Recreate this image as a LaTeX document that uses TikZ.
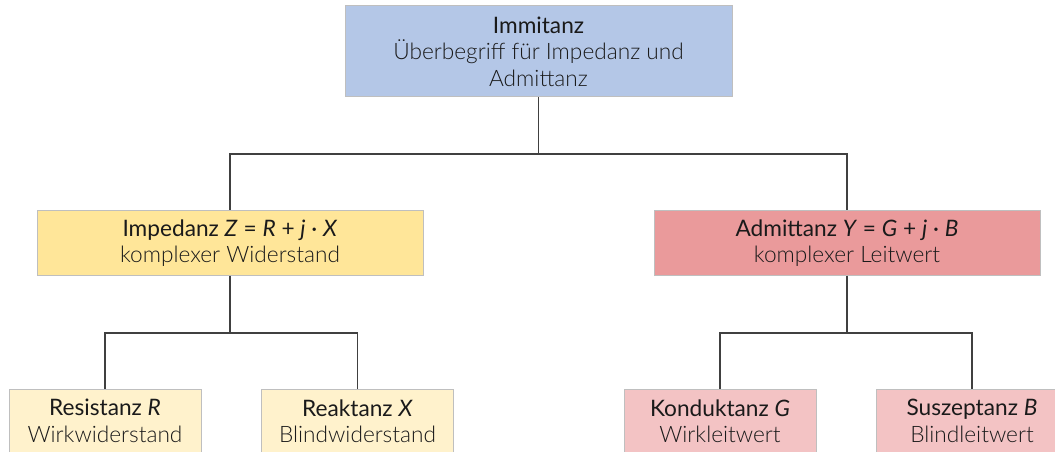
\documentclass[tikz,border=0pt]{standalone}
\usepackage{fontspec}
\setmainfont{Lato}
\IfFontExistsTF{Lato Light}{\newfontfamily\lightfont{Lato Light}}{\newcommand\lightfont{\relax}}
\definecolor{topblue}{HTML}{B4C7E7}
\definecolor{midyellow}{HTML}{FFE699}
\definecolor{midred}{HTML}{EA9A9B}
\definecolor{lowyellow}{HTML}{FFF2CC}
\definecolor{lowred}{HTML}{F3C3C4}
\definecolor{boxline}{HTML}{BFBFBF}
\definecolor{conn}{HTML}{404040}
\definecolor{txt}{HTML}{1A1A1A}
\begin{document}
\begin{tikzpicture}[x=0.75pt,y=-0.75pt,
  box/.style={draw=boxline,line width=0.75pt,rectangle,align=center,inner sep=0pt,
    text=txt,font=\fontsize{17}{19.8}\selectfont},
  topbox/.style={box,fill=topblue,minimum width=387*0.75pt,minimum height=91*0.75pt},
  midbox/.style={box,minimum width=386*0.75pt,minimum height=64*0.75pt},
  lowbox/.style={box,minimum width=192*0.75pt,minimum height=64*0.75pt},
  link/.style={draw=conn,line width=0.9pt}]
\useasboundingbox (0,0) rectangle (1055,452);
\clip (0,0) rectangle (1055,452);
\node[topbox] (imm) at (538.5,51.5) {Immitanz\\{\lightfont Überbegriff für Impedanz und}\\{\lightfont Admittanz}};
\node[midbox,fill=midyellow] (imp) at (230,243) {Impedanz \textit{Z} = \textit{R} + \textit{j} · \textit{X}\\{\lightfont komplexer Widerstand}};
\node[midbox,fill=midred] (adm) at (847,243) {Admittanz \textit{Y} = \textit{G} + \textit{j} · \textit{B}\\{\lightfont komplexer Leitwert}};
\node[lowbox,fill=lowyellow] (res) at (105,421) {Resistanz \textit{R}\\{\lightfont Wirkwiderstand}};
\node[lowbox,fill=lowyellow] (rea) at (357.5,421) {Reaktanz \textit{X}\\{\lightfont Blindwiderstand}};
\node[lowbox,fill=lowred] (kon) at (720,421) {Konduktanz \textit{G}\\{\lightfont Wirkleitwert}};
\node[lowbox,fill=lowred] (sus) at (972,421) {Suszeptanz \textit{B}\\{\lightfont Blindleitwert}};
\coordinate (j1) at (538.5,154);
\coordinate (j2) at (230,333);
\coordinate (j3) at (847,333);
\draw[link] (imm.south) -- (j1);
\draw[link] (j1) -| (imp.north);
\draw[link] (j1) -| (adm.north);
\draw[link] (imp.south) -- (j2);
\draw[link] (j2) -| (res.north);
\draw[link] (j2) -| (rea.north);
\draw[link] (adm.south) -- (j3);
\draw[link] (j3) -| (kon.north);
\draw[link] (j3) -| (sus.north);
\end{tikzpicture}
\end{document}
